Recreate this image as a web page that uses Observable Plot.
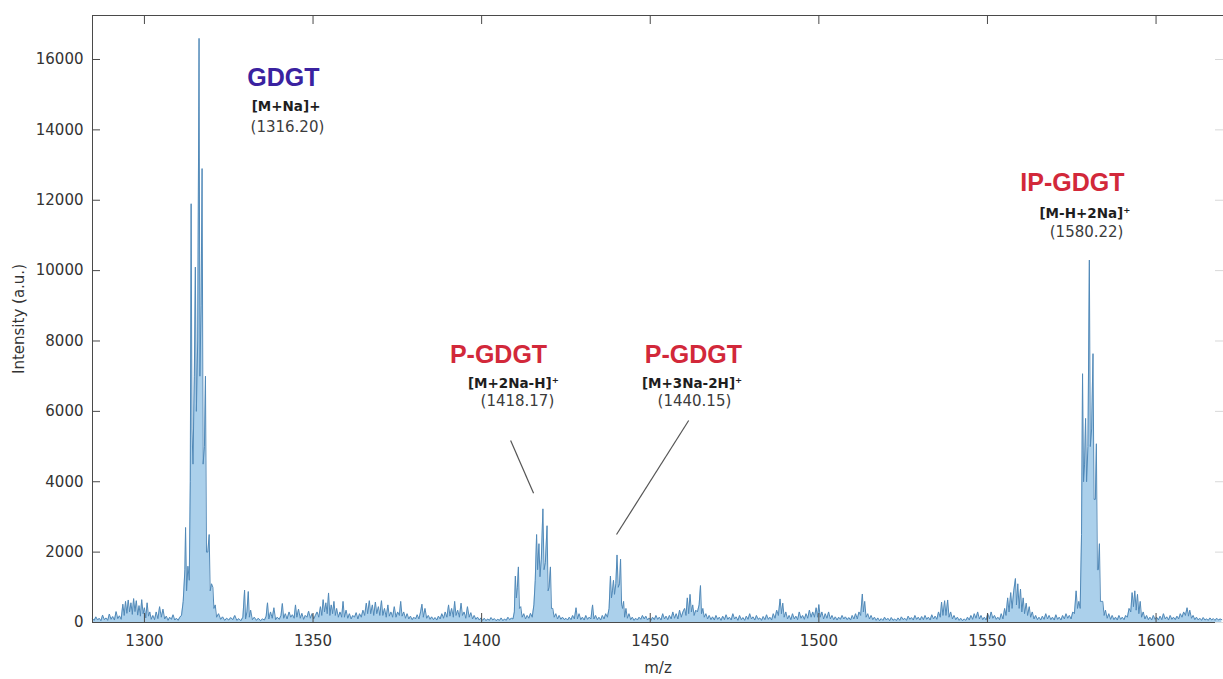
<!DOCTYPE html>
<html>
<head>
<meta charset="utf-8">
<script src="https://cdn.jsdelivr.net/npm/d3@7"></script>
<script src="https://cdn.jsdelivr.net/npm/@observablehq/plot@0.6"></script>
<style>
  body { margin: 0; background: #fff; }
  #chart svg { display: block; }
</style>
</head>
<body>
<div id="chart"></div>
<script>
// MALDI spectrum, m/z vs intensity, as [m/z, intensity] pairs by region
const lowMassNoise = [
  [1284.6,110],[1285.1,60],[1285.6,160],[1286.1,70],[1286.6,120],[1287.1,50],[1287.6,210],[1288.1,80],
  [1288.6,130],[1289.1,60],[1289.6,240],[1290.1,90],[1290.6,170],[1291.1,70],[1291.6,310],[1292.1,110],
  [1292.6,190],[1293.1,90],[1293.6,520],[1294.0,200],[1294.4,600],[1294.8,260],[1295.2,640],[1295.6,300],
  [1296.0,560],[1296.4,230],[1296.8,680],[1297.2,310],[1297.6,620],[1298.0,210],[1298.4,480],[1298.8,180],
  [1299.2,650],[1299.6,250],[1300.0,420],[1300.4,130],[1300.8,560],[1301.2,180],[1301.6,300],[1302.0,90],
  [1302.5,200],[1303.0,80],[1303.5,300],[1304.0,110],[1304.5,450],[1305.0,150],[1305.5,380],[1306.0,100],
  [1306.5,180],[1307.0,60],[1307.5,150],[1308.0,90],[1308.5,220],[1309.0,70],[1309.5,120],[1310.0,60],
  [1310.5,150],[1311.0,200]
];
const gdgtCluster = [
  [1311.5,600],[1312.0,1500],[1312.2,2700],[1312.5,900],[1312.9,1600],[1313.3,1200],[1313.6,4000],
  [1313.85,11900],[1314.1,5500],[1314.4,4500],[1314.8,7000],[1315.1,10100],[1315.4,6000],[1315.8,8000],
  [1316.2,16600],[1316.45,7000],[1316.8,9000],[1317.1,12900],[1317.4,4500],[1317.8,5000],[1318.1,7000],
  [1318.4,2000],[1318.8,2000],[1319.2,2500],[1319.5,900],[1319.9,1100],[1320.3,1000],[1320.6,400],
  [1321.0,500],[1321.4,150]
];
const midNoiseA = [
  [1322.0,250],[1322.6,90],[1323.2,160],[1323.8,60],[1324.4,120],[1325.0,70],[1325.6,140],[1326.2,80],
  [1326.8,200],[1327.4,60],[1328.0,110],[1328.6,50],[1329.2,150],[1329.7,920],[1330.0,100],[1330.4,300],
  [1330.8,880],[1331.1,150],[1331.5,350],[1332.0,80],[1332.6,150],[1333.2,60],[1333.8,120],[1334.4,50],
  [1335.0,100],[1335.6,70],[1336.1,180],[1336.5,560],[1336.9,100],[1337.4,300],[1337.9,120],[1338.4,420],
  [1338.9,80],[1339.4,150],[1340.0,90],[1340.5,200],[1340.9,540],[1341.3,120],[1341.8,250],[1342.3,100],
  [1342.9,300],[1343.4,150],[1343.9,220],[1344.4,120],[1344.8,500],[1345.2,150],[1345.7,380],[1346.2,120],
  [1346.7,260],[1347.2,90],[1347.7,200],[1348.2,150],[1348.7,320],[1349.2,120],[1349.7,250],[1350.2,100],
  [1350.7,200],[1351.2,300],[1351.7,150],[1352.2,450],[1352.6,200],[1353.0,650],[1353.4,300],[1353.8,560],
  [1354.2,250],[1354.6,840],[1355.0,200],[1355.4,500],[1355.8,250],[1356.2,600],[1356.6,200],[1357.0,400],
  [1357.5,150],[1358.0,300],[1358.5,150],[1358.9,600],[1359.3,150],[1359.8,350],[1360.3,120],[1360.8,250],
  [1361.3,100],[1361.8,200],[1362.3,150],[1362.8,280],[1363.3,100],[1363.8,250],[1364.3,150],[1364.8,350],
  [1365.3,200],[1365.8,550],[1366.2,250],[1366.7,620],[1367.1,250],[1367.6,500],[1368.0,200],[1368.5,580],
  [1368.9,250],[1369.4,450],[1369.8,200],[1370.3,620],[1370.7,200],[1371.2,400],[1371.7,150],[1372.2,500],
  [1372.6,180],[1373.1,300],[1373.6,150],[1374.1,450],[1374.6,150],[1375.1,300],[1375.6,200],[1376.0,600],
  [1376.4,180],[1376.9,300],[1377.4,120],[1377.9,250],[1378.4,100],[1378.9,180],[1379.4,80],[1379.9,150],
  [1380.4,100],[1380.9,220],[1381.4,100],[1381.9,300],[1382.3,520],[1382.7,150],[1383.2,400],[1383.7,120],
  [1384.2,200],[1384.7,90],[1385.2,160],[1385.7,80],[1386.2,140],[1386.7,70],[1387.2,180],[1387.7,100],
  [1388.2,250],[1388.7,120],[1389.2,300],[1389.7,150],[1390.2,500],[1390.6,180],[1391.1,400],[1391.6,150],
  [1392.0,600],[1392.4,200],[1392.9,350],[1393.4,150],[1393.9,550],[1394.3,200],[1394.8,300],[1395.3,120],
  [1395.8,450],[1396.3,150],[1396.8,280],[1397.3,100],[1397.8,200],[1398.3,90],[1398.8,150],[1399.3,70],
  [1399.8,130],[1400.3,60],[1400.8,120],[1401.3,50],[1401.8,100],[1402.3,60],[1402.8,140],[1403.3,70],
  [1403.8,110],[1404.3,50],[1404.8,90],[1405.3,60],[1405.8,130],[1406.3,50],[1406.8,100],[1407.3,60],
  [1407.8,150],[1408.3,80],[1408.8,120],[1409.3,100]
];
const pgdgtCluster1 = [
  [1409.7,300],[1410.0,1320],[1410.3,700],[1410.6,1000],[1410.9,1580],[1411.2,400],[1411.6,450],[1412.0,150],
  [1412.5,250],[1413.0,100],[1413.5,200],[1414.0,120],[1414.5,260],[1415.0,150],[1415.5,500],[1415.9,1200],
  [1416.3,2500],[1416.6,1500],[1417.0,2240],[1417.3,1300],[1417.7,1800],[1418.17,3230],[1418.5,1500],
  [1418.9,1700],[1419.4,2750],[1419.7,900],[1420.0,1000],[1420.4,1580],[1420.7,400],[1421.1,400],[1421.5,150]
];
const midNoiseB = [
  [1422.0,250],[1422.5,100],[1423.0,200],[1423.5,90],[1424.0,150],[1424.5,80],[1425.0,120],[1425.5,70],
  [1426.0,150],[1426.5,80],[1427.0,200],[1427.5,100],[1428.0,420],[1428.4,100],[1428.9,250],[1429.4,80],
  [1429.9,150],[1430.4,70],[1430.9,200],[1431.4,90],[1431.9,150],[1432.4,100],[1432.9,500],[1433.3,100],
  [1433.8,200],[1434.3,80],[1434.8,150],[1435.3,70],[1435.8,200],[1436.3,100],[1436.8,250],[1437.3,150]
];
const pgdgtCluster2 = [
  [1437.8,400],[1438.2,1320],[1438.5,700],[1438.8,900],[1439.1,1200],[1439.4,800],[1439.8,1100],
  [1440.15,1920],[1440.5,1000],[1440.9,1100],[1441.2,1800],[1441.5,500],[1441.8,400],[1442.1,600],
  [1442.4,150],[1442.8,400],[1443.2,120]
];
const midNoiseC = [
  [1443.7,250],[1444.2,80],[1444.7,150],[1445.2,60],[1445.7,120],[1446.2,70],[1446.7,150],[1447.2,90],
  [1447.7,200],[1448.2,100],[1448.7,180],[1449.2,70],[1449.7,130],[1450.2,60],[1450.7,150],[1451.2,80],
  [1451.7,200],[1452.2,90],[1452.7,150],[1453.2,70],[1453.7,250],[1454.2,100],[1454.7,180],[1455.2,80],
  [1455.7,200],[1456.2,100],[1456.7,300],[1457.2,120],[1457.7,250],[1458.2,100],[1458.7,350],[1459.2,150],
  [1459.7,300],[1460.2,400],[1460.6,200],[1461.0,700],[1461.4,250],[1461.8,800],[1462.2,300],[1462.6,500],
  [1463.0,200],[1463.5,350],[1464.0,300],[1464.5,500],[1464.9,1050],[1465.2,250],[1465.6,400],[1466.0,150],
  [1466.5,250],[1467.0,100],[1467.5,200],[1468.0,80],[1468.5,160],[1469.0,70],[1469.5,200],[1470.0,90],
  [1470.5,150],[1471.0,60],[1471.5,180],[1472.0,80],[1472.5,220],[1473.0,90],[1473.5,150],[1474.0,70],
  [1474.5,250],[1475.0,100],[1475.5,160],[1476.0,60],[1476.5,200],[1477.0,80],[1477.5,140],[1478.0,60],
  [1478.5,180],[1479.0,90],[1479.5,250],[1480.0,100],[1480.5,160],[1481.0,70],[1481.5,200],[1482.0,90],
  [1482.5,130],[1483.0,60],[1483.5,170],[1484.0,80],[1484.5,220],[1485.0,90],[1485.5,150],[1486.0,70],
  [1486.5,250],[1487.0,120],[1487.5,350],[1488.0,200],[1488.5,670],[1488.9,250],[1489.3,550],[1489.7,150],
  [1490.2,300],[1490.7,100],[1491.2,200],[1491.7,80],[1492.2,250],[1492.7,100],[1493.2,180],[1493.7,80],
  [1494.2,300],[1494.7,120],[1495.2,200],[1495.7,90],[1496.2,250],[1496.7,120],[1497.2,350],[1497.7,150],
  [1498.2,300],[1498.7,150],[1499.2,420],[1499.6,150],[1500.0,510],[1500.4,150],[1500.9,300],[1501.4,100],
  [1501.9,250],[1502.4,120],[1502.9,300],[1503.4,100],[1503.9,200],[1504.4,80],[1504.9,160],[1505.4,70],
  [1505.9,150],[1506.4,90],[1506.9,200],[1507.4,100],[1507.9,160],[1508.4,80],[1508.9,140],[1509.4,70],
  [1509.9,200],[1510.4,100],[1510.9,250],[1511.4,100],[1511.9,300],[1512.4,200],[1512.9,810],[1513.2,300],
  [1513.6,600],[1514.0,150],[1514.5,250],[1515.0,100],[1515.5,200],[1516.0,80],[1516.5,150],[1517.0,60],
  [1517.5,130],[1518.0,50],[1518.5,110],[1519.0,60],[1519.5,150],[1520.0,70],[1520.5,120],[1521.0,50],
  [1521.5,140],[1522.0,60],[1522.5,100],[1523.0,50],[1523.5,130],[1524.0,60],[1524.5,160],[1525.0,80],
  [1525.5,120],[1526.0,60],[1526.5,180],[1527.0,90],[1527.5,140],[1528.0,70],[1528.5,200],[1529.0,90],
  [1529.5,150],[1530.0,70],[1530.5,170],[1531.0,80],[1531.5,200],[1532.0,90],[1532.5,150],[1533.0,70],
  [1533.5,220],[1534.0,100],[1534.5,180],[1535.0,90],[1535.5,300],[1536.0,150],[1536.4,580],[1536.8,200],
  [1537.3,620],[1537.7,200],[1538.2,640],[1538.6,150],[1539.1,300],[1539.6,100],[1540.1,200],[1540.6,80],
  [1541.1,150],[1541.6,60],[1542.1,120],[1542.6,50],[1543.1,100],[1543.6,60],[1544.1,150],[1544.6,70],
  [1545.1,200],[1545.6,90],[1546.1,250],[1546.6,120],[1547.1,300],[1547.6,100],[1548.1,200],[1548.6,80],
  [1549.1,150],[1549.6,70],[1550.1,250],[1550.6,100],[1551.1,300],[1551.6,120],[1552.1,200],[1552.6,90],
  [1553.1,150],[1553.6,80],[1554.1,250],[1554.6,100],[1555.1,400],[1555.5,200],[1556.0,700],[1556.4,300],
  [1556.9,850],[1557.3,400],[1557.8,900],[1558.3,1250],[1558.6,500],[1559.0,1100],[1559.4,400],[1559.8,950],
  [1560.2,300],[1560.6,700],[1561.0,250],[1561.5,550],[1561.9,200],[1562.4,450],[1562.8,150],[1563.3,300],
  [1563.8,100],[1564.3,200],[1564.8,80],[1565.3,150],[1565.8,70],[1566.3,180],[1566.8,90],[1567.3,250],
  [1567.8,100],[1568.3,200],[1568.8,80],[1569.3,150],[1569.8,70],[1570.3,220],[1570.8,90],[1571.3,150],
  [1571.8,70],[1572.3,200],[1572.8,100],[1573.3,250],[1573.8,120],[1574.3,200],[1574.8,100]
];
const ipgdgtCluster = [
  [1575.3,300],[1575.8,250],[1576.3,900],[1576.7,400],[1577.1,600],[1577.5,400],[1577.9,2500],
  [1578.2,7070],[1578.5,4000],[1578.8,4500],[1579.1,5800],[1579.4,4000],[1579.8,5000],[1580.22,10300],
  [1580.5,5000],[1580.9,5500],[1581.3,7640],[1581.6,3500],[1582.0,3500],[1582.3,5080],[1582.6,1500],
  [1582.9,1500],[1583.2,2240],[1583.5,600],[1583.9,600],[1584.2,600],[1584.6,200],[1585.0,350]
];
const highMassNoise = [
  [1585.5,120],[1586.0,250],[1586.5,90],[1587.0,200],[1587.5,80],[1588.0,150],[1588.5,70],[1589.0,200],
  [1589.5,90],[1590.0,150],[1590.5,80],[1591.0,200],[1591.5,150],[1592.0,400],[1592.5,300],[1592.9,850],
  [1593.3,450],[1593.7,900],[1594.1,350],[1594.5,800],[1594.9,250],[1595.3,600],[1595.7,150],[1596.2,300],
  [1596.7,100],[1597.2,200],[1597.7,80],[1598.2,150],[1598.7,70],[1599.2,200],[1599.7,90],[1600.2,150],
  [1600.7,70],[1601.2,180],[1601.7,80],[1602.2,250],[1602.7,100],[1603.2,160],[1603.7,70],[1604.2,200],
  [1604.7,90],[1605.2,150],[1605.7,80],[1606.2,180],[1606.7,100],[1607.2,250],[1607.7,150],[1608.2,300],
  [1608.7,200],[1609.2,420],[1609.6,180],[1610.0,350],[1610.5,120],[1611.0,200],[1611.5,80],[1612.0,150],
  [1612.5,70],[1613.0,120],[1613.5,60],[1614.0,140],[1614.5,70],[1615.0,100],[1615.5,60],[1616.0,130],
  [1616.5,70],[1617.0,110],[1617.5,60],[1618.0,120],[1618.5,70],[1619.0,100],[1619.5,80]
];

// Axis ticks
const xTicks = [1300, 1350, 1400, 1450, 1500, 1550, 1600];
const yTicks = [0, 2000, 4000, 6000, 8000, 10000, 12000, 14000, 16000];

// Peak annotations
const annotationNames = ["GDGT", "P-GDGT", "P-GDGT", "IP-GDGT"];
const annotationAdducts = ["[M+Na]+", "[M+2Na-H]\u207A", "[M+3Na-2H]\u207A", "[M-H+2Na]\u207A"];
const annotationMasses = [1316.20, 1418.17, 1440.15, 1580.22];
const annotationColors = ["#3a22a0", "#d2283a", "#d2283a", "#d2283a"];

// ---- layout ----
const width = 1223, height = 679;
const margin = {top: 15, right: 0, bottom: 57, left: 92};
const xDomain = [1284.6, 1620];
const yDomain = [0, 17250];
const innerW = width - margin.left - margin.right;
const innerH = height - margin.top - margin.bottom;
const pxX = (xDomain[1] - xDomain[0]) / innerW;   // m/z units per pixel
const pxY = (yDomain[1] - yDomain[0]) / innerH;   // intensity units per pixel
const tickLenX = 8 * pxX;
const tickLenY = 9 * pxY;

// Where each annotation block sits (title, adduct line, mass line)
const labelPlacement = [
  {tx: 1341.2, ty: 15460, ax: 1342.0, ay: 14650, mx: 1342.4, my: 14080},
  {tx: 1405.0, ty: 7590,  ax: 1409.4, ay: 6790,  mx: 1410.6, my: 6280},
  {tx: 1462.8, ty: 7590,  ax: 1462.4, ay: 6790,  mx: 1463.1, my: 6280},
  {tx: 1575.2, ty: 12480, ax: 1578.9, ay: 11620, mx: 1579.4, my: 11080}
];
// Leader lines from the P-GDGT labels down to their peaks
const leaders = [
  {x1: 1408.6, y1: 5170, x2: 1415.4, y2: 3670},
  {x1: 1461.4, y1: 5740, x2: 1440.0, y2: 2500}
];

const spectrum = [
  ...lowMassNoise, ...gdgtCluster, ...midNoiseA, ...pgdgtCluster1, ...midNoiseB,
  ...pgdgtCluster2, ...midNoiseC, ...ipgdgtCluster, ...highMassNoise
].map(([mz, intensity]) => ({mz, intensity}));

const annotations = annotationNames.map((name, i) => ({
  name,
  adduct: annotationAdducts[i],
  mass: `(${annotationMasses[i].toFixed(2)})`,
  color: annotationColors[i],
  ...labelPlacement[i]
}));

const frameColor = "#4a4a4a";

const chart = Plot.plot({
  width, height,
  marginTop: margin.top, marginRight: margin.right,
  marginBottom: margin.bottom, marginLeft: margin.left,
  x: {domain: xDomain},
  y: {domain: yDomain},
  style: {fontFamily: "'DejaVu Sans', sans-serif", fontSize: "15px", color: "#333", background: "#fff"},
  marks: [
    Plot.areaY(spectrum, {x: "mz", y: "intensity", fill: "#a6cdea", fillOpacity: 0.95}),
    Plot.lineY(spectrum, {x: "mz", y: "intensity", stroke: "#5189b8", strokeWidth: 1}),
    // box edges
    Plot.ruleY([yDomain[0]], {stroke: frameColor, strokeWidth: 1}),
    Plot.ruleY([yDomain[1]], {stroke: frameColor, strokeWidth: 1}),
    Plot.ruleX([xDomain[0]], {stroke: frameColor, strokeWidth: 1}),
    // inward ticks
    Plot.ruleX(xTicks, {x: d => d, y1: yDomain[1] - tickLenY, y2: yDomain[1], stroke: frameColor}),
    Plot.ruleX(xTicks, {x: d => d, y1: yDomain[0], y2: yDomain[0] + tickLenY, stroke: frameColor}),
    Plot.ruleY(yTicks, {y: d => d, x1: xDomain[0], x2: xDomain[0] + tickLenX, stroke: frameColor}),
    Plot.ruleY(yTicks, {y: d => d, x1: xDomain[1] - tickLenX, x2: xDomain[1], stroke: "#d8d8d8"}),
    Plot.axisX(xTicks, {tickSize: 0, tickPadding: 13, tickFormat: "d",
      label: "m/z", labelAnchor: "center", labelOffset: 50, labelArrow: "none"}),
    Plot.axisY(yTicks, {tickSize: 0, tickPadding: 9, tickFormat: "d",
      label: "Intensity (a.u.)", labelAnchor: "center", labelOffset: 79, labelArrow: "none"}),
    // leader lines
    Plot.link(leaders, {x1: "x1", y1: "y1", x2: "x2", y2: "y2", stroke: "#555", strokeWidth: 1.2}),
    // annotation text
    Plot.text(annotations, {x: "tx", y: "ty", text: "name", fill: "color",
      fontFamily: "'Liberation Sans', Arial, sans-serif", fontWeight: "bold", fontSize: 25}),
    Plot.text(annotations, {x: "ax", y: "ay", text: "adduct", fill: "#1e1e1e",
      fontWeight: "bold", fontSize: 13.5}),
    Plot.text(annotations, {x: "mx", y: "my", text: "mass", fill: "#3c3c3c", fontSize: 15})
  ]
});

document.getElementById("chart").appendChild(chart);
</script>
</body>
</html>
